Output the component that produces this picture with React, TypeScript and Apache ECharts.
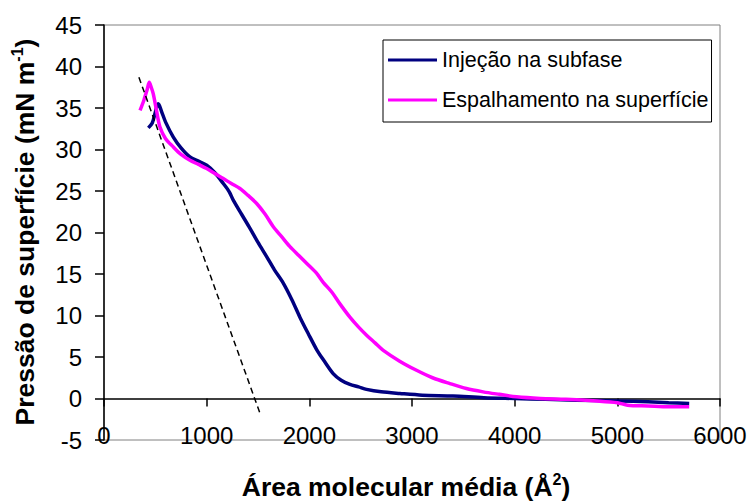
import React, { useEffect, useRef } from "react";
import * as echarts from "echarts";

// X-axis ticks (Área molecular média, Å²) and Y-axis ticks (mN m⁻¹)
const xTicks = [0, 1000, 2000, 3000, 4000, 5000, 6000];
const yTicks = [-5, 0, 5, 10, 15, 20, 25, 30, 35, 40, 45];

const seriesNames = ["Injeção na subfase", "Espalhamento na superfície"];

// Injeção na subfase
const injX = [432, 470, 496, 515, 529, 560, 600, 675, 750, 837, 920, 1000, 1080, 1162, 1220, 1259, 1340, 1422, 1500, 1584, 1660, 1746, 1830, 1908, 1990, 2071, 2140, 2232, 2310, 2395, 2480, 2557, 2700, 2882, 3100, 3400, 3700, 4000, 4300, 4600, 5000, 5300, 5500, 5700];
const injY = [32.6, 33.2, 34.3, 35.2, 35.5, 34.6, 33.3, 31.5, 30.2, 29.1, 28.6, 28.1, 27.2, 25.9, 24.9, 23.9, 22.2, 20.5, 18.8, 17.1, 15.5, 13.9, 11.9, 9.8, 7.8, 5.9, 4.6, 3.0, 2.2, 1.7, 1.4, 1.1, 0.8, 0.6, 0.4, 0.3, 0.1, 0.0, -0.1, -0.2, -0.3, -0.4, -0.5, -0.6];

// Espalhamento na superfície
const espX = [351, 390, 420, 441, 460, 480, 510, 545, 600, 675, 750, 837, 920, 1000, 1080, 1162, 1240, 1324, 1400, 1487, 1570, 1649, 1730, 1811, 1900, 1973, 2070, 2135, 2220, 2298, 2395, 2480, 2560, 2640, 2720, 2880, 3044, 3200, 3369, 3530, 3693, 3850, 4018, 4250, 4500, 4800, 5000, 5100, 5300, 5500, 5700];
const espY = [34.7, 36.0, 37.2, 38.1, 37.5, 36.7, 34.8, 32.7, 31.3, 30.3, 29.4, 28.7, 28.2, 27.7, 27.1, 26.5, 25.9, 25.3, 24.5, 23.5, 22.2, 20.7, 19.5, 18.3, 17.2, 16.3, 15.1, 14.0, 12.8, 11.4, 9.8, 8.6, 7.6, 6.7, 5.8, 4.5, 3.4, 2.5, 1.8, 1.2, 0.8, 0.5, 0.2, 0.0, -0.1, -0.3, -0.5, -0.8, -0.9, -1.0, -1.0];

// Dashed extrapolation line
const dashX = [340, 1520];
const dashY = [38.7, -1.8];

const zip = (xs: number[], ys: number[]) => xs.map((x, i) => [x, ys[i]]);

export default function App() {
  const ref = useRef<HTMLDivElement>(null);
  useEffect(() => {
    if (!ref.current) return;
    const chart = echarts.init(ref.current, null, { renderer: "svg" });
    const font = "Arial, 'Liberation Sans', sans-serif";
    const xMin = xTicks[0];
    const xMax = xTicks[xTicks.length - 1];
    const xStep = xTicks[1] - xTicks[0];
    const yMin = yTicks[0];
    const yMax = yTicks[yTicks.length - 1];
    const yStep = yTicks[1] - yTicks[0];
    const titleRich = {
      a: { fontSize: 26.5, fontWeight: "bold", fontFamily: font, fill: "#000", lineHeight: 31 },
      s: { fontSize: 16, fontWeight: "bold", fontFamily: font, fill: "#000", lineHeight: 16, verticalAlign: "top" },
    };
    chart.setOption({
      animation: false,
      backgroundColor: "#ffffff",
      grid: {
        left: 104,
        right: 30,
        top: 25,
        bottom: 62,
        show: true,
        borderColor: "#808080",
        borderWidth: 1,
        backgroundColor: "transparent",
      },
      legend: {
        orient: "vertical",
        left: 383,
        top: 40,
        padding: [9, 3, 11, 5],
        itemGap: 18,
        itemWidth: 49,
        itemHeight: 3,
        icon: "rect",
        borderColor: "#000000",
        borderWidth: 1,
        backgroundColor: "#ffffff",
        data: seriesNames,
        textStyle: { fontSize: 21.5, color: "#000", fontFamily: font },
      },
      xAxis: [
        {
          type: "value",
          min: xMin,
          max: xMax,
          interval: xStep,
          position: "bottom",
          axisLine: { show: true, onZero: true, lineStyle: { color: "#000", width: 1.5 } },
          axisTick: { show: true, inside: false, length: 8, lineStyle: { color: "#000", width: 1.5 } },
          axisLabel: { show: false },
          splitLine: { show: false },
        },
        {
          type: "value",
          min: xMin,
          max: xMax,
          interval: xStep,
          position: "bottom",
          axisLine: { show: false, onZero: false },
          axisTick: { show: false },
          axisLabel: {
            show: true,
            margin: -17,
            fontSize: 24,
            color: "#000",
            fontFamily: font,
            formatter: (v: number) => String(v),
          },
          splitLine: { show: false },
        },
      ],
      yAxis: {
        type: "value",
        min: yMin,
        max: yMax,
        interval: yStep,
        axisLine: { show: true, onZero: false, lineStyle: { color: "#000", width: 1.5 } },
        axisTick: { show: true, inside: false, length: 9, lineStyle: { color: "#000", width: 1.5 } },
        axisLabel: { fontSize: 24, color: "#000", margin: 22, fontFamily: font },
        splitLine: { show: false },
      },
      graphic: [
        {
          type: "text",
          x: 406,
          y: 487,
          style: {
            text: "{a|Área molecular média (Å}{s|2}{a|)}",
            align: "center",
            verticalAlign: "middle",
            rich: titleRich,
          },
        },
        {
          type: "text",
          x: 25,
          y: 232,
          rotation: Math.PI / 2,
          style: {
            text: "{a|Pressão de superfície (mN m}{s|-1}{a|)}",
            align: "center",
            verticalAlign: "middle",
            rich: titleRich,
          },
        },
      ],
      series: [
        {
          name: seriesNames[0],
          type: "line",
          xAxisIndex: 0,
          data: zip(injX, injY),
          showSymbol: false,
          symbol: "none",
          smooth: 0.3,
          color: "#000080",
          lineStyle: { color: "#000080", width: 3.5 },
        },
        {
          name: seriesNames[1],
          type: "line",
          xAxisIndex: 0,
          data: zip(espX, espY),
          showSymbol: false,
          symbol: "none",
          smooth: 0.3,
          color: "#FF00FF",
          lineStyle: { color: "#FF00FF", width: 3.5 },
        },
        {
          name: "extrapolação",
          type: "line",
          xAxisIndex: 0,
          data: zip(dashX, dashY),
          showSymbol: false,
          symbol: "none",
          color: "#000",
          lineStyle: { color: "#000", width: 1.5, type: [6, 4] },
          silent: true,
        },
      ],
    });
    return () => chart.dispose();
  }, []);
  return <div ref={ref} style={{ width: 750, height: 502, position: "absolute", left: 0, top: 0 }} />;
}
